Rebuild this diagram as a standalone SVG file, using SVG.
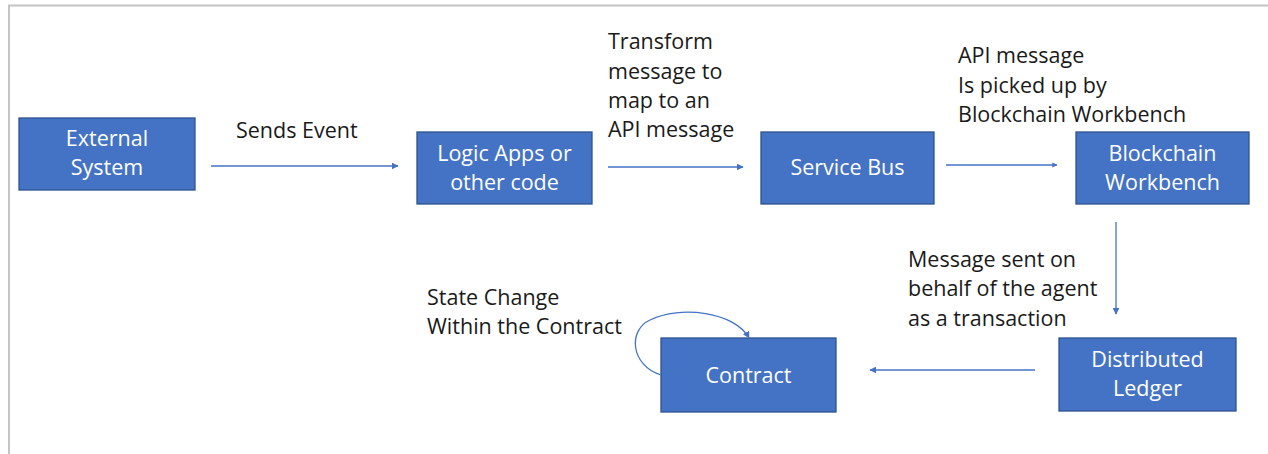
<svg xmlns="http://www.w3.org/2000/svg" width="1268" height="454" viewBox="0 0 1268 454">
<style>
.node{fill:#4472C4;stroke:#2F528F;stroke-width:1.3}
.nl{fill:#ffffff;font-family:"Open Sans","Liberation Sans",sans-serif;font-size:21.5px;text-anchor:middle}
.lbl{fill:#1a1a1a;font-family:"Open Sans","Liberation Sans",sans-serif;font-size:21.5px}
.conn{fill:none;stroke:#4472C4;stroke-width:1.3}
</style>
<defs>
<marker id="ah" viewBox="0 0 10 10" refX="9" refY="5" markerWidth="7" markerHeight="7" markerUnits="userSpaceOnUse" orient="auto">
<path d="M0,0 L10,5 L0,10 z" fill="#4472C4"/>
</marker>
<marker id="ah2" viewBox="0 0 10 10" refX="9" refY="5" markerWidth="4" markerHeight="4" orient="auto">
<path d="M0,0 L10,5 L0,10 z" fill="#4472C4"/>
</marker>
</defs>
<rect x="0" y="0" width="1268" height="454" fill="#ffffff"/>
<g id="frame" stroke="#c4c4c4" stroke-width="2" fill="none">
<path d="M9,454 L9,5.5 L1268,5.5"/>
</g>
<g id="external-system">
<rect class="node" x="19" y="118" width="176" height="72"/>
<text class="nl" x="107" y="146">External</text>
<text class="nl" x="107" y="175">System</text>
</g>
<g id="logic-apps">
<rect class="node" x="417" y="132" width="175" height="72"/>
<text class="nl" x="504.5" y="161">Logic Apps or</text>
<text class="nl" x="504.5" y="190">other code</text>
</g>
<g id="service-bus">
<rect class="node" x="761" y="132" width="173" height="72"/>
<text class="nl" x="847.5" y="175">Service Bus</text>
</g>
<g id="blockchain-workbench">
<rect class="node" x="1076" y="132" width="173" height="72"/>
<text class="nl" x="1162.5" y="161">Blockchain</text>
<text class="nl" x="1162.5" y="190">Workbench</text>
</g>
<g id="contract">
<rect class="node" x="661" y="338" width="175" height="74"/>
<text class="nl" x="748.5" y="383">Contract</text>
</g>
<g id="distributed-ledger">
<rect class="node" x="1059" y="338" width="177" height="73"/>
<text class="nl" x="1147.5" y="367">Distributed</text>
<text class="nl" x="1147.5" y="396">Ledger</text>
</g>
<g id="connectors">
<line class="conn" x1="211" y1="166" x2="398" y2="166" marker-end="url(#ah)"/>
<line class="conn" x1="608" y1="167" x2="743" y2="167" marker-end="url(#ah)"/>
<line class="conn" x1="946" y1="165" x2="1057" y2="165" stroke-width="2.5" marker-end="url(#ah2)"/>
<line class="conn" x1="1116" y1="222" x2="1116" y2="314" marker-end="url(#ah)"/>
<line class="conn" x1="1035" y1="370" x2="870" y2="370" marker-end="url(#ah)"/>
<path class="conn" d="M661,375 C630,365 628,330 650,320 C680,305 735,312 749,338" marker-end="url(#ah)"/>
</g>
<g id="labels">
<text class="lbl" x="236" y="138">Sends Event</text>
<text class="lbl" x="608" y="49">Transform</text>
<text class="lbl" x="608" y="79">message to</text>
<text class="lbl" x="608" y="108">map to an</text>
<text class="lbl" x="608" y="137">API message</text>
<text class="lbl" x="958" y="63">API message</text>
<text class="lbl" x="958" y="93">Is picked up by</text>
<text class="lbl" x="958" y="122">Blockchain Workbench</text>
<text class="lbl" x="908" y="267">Message sent on</text>
<text class="lbl" x="908" y="296">behalf of the agent</text>
<text class="lbl" x="908" y="326">as a transaction</text>
<text class="lbl" x="427" y="305">State Change</text>
<text class="lbl" x="427" y="334">Within the Contract</text>
</g>
</svg>
